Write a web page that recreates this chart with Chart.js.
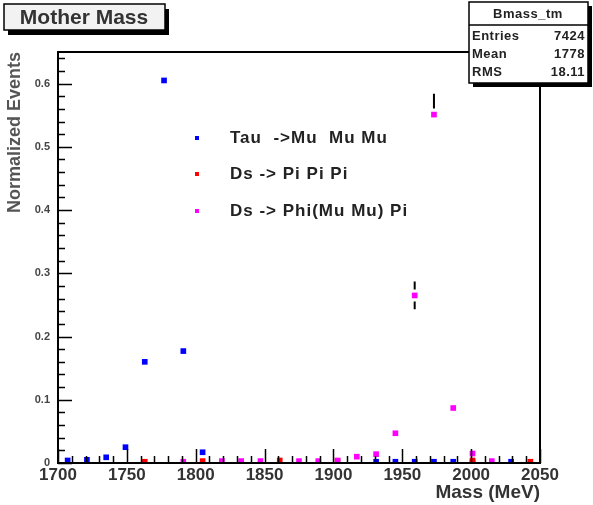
<!DOCTYPE html>
<html>
<head>
<meta charset="utf-8">
<script src="https://cdn.jsdelivr.net/npm/chart.js@4"></script>
<style>
  html, body { margin: 0; padding: 0; background: #fff; }
  #wrap { width: 593px; height: 505px; }
</style>
</head>
<body>
<div id="wrap"><canvas id="massChart" width="593" height="505"></canvas></div>
<script>
// bin centres (MeV), 14 MeV bins from 1700 to 2050
const massBins = [1707, 1721, 1735, 1749, 1763, 1777, 1791, 1805, 1819, 1833, 1847, 1861, 1875,
  1889, 1903, 1917, 1931, 1945, 1959, 1973, 1987, 2001, 2015, 2029, 2043];
const tauMuMuMu = [0.004, 0.005, 0.009, 0.025, 0.160, 0.605, 0.177, 0.017, null, null, null, null, null,
  null, null, null, 0.002, 0.002, 0.002, 0.002, 0.002, 0.001, null, 0.002, null];
const dsPiPiPi = [null, null, null, null, 0.002, null, null, 0.003, null, null, null, 0.004, null,
  null, 0.003, null, null, null, null, null, null, 0.004, null, null, 0.002];
const dsPhiPi = [null, null, null, null, null, null, 0.002, null, 0.003, 0.003, 0.003, null, 0.003,
  0.003, 0.004, 0.010, 0.014, 0.047, 0.265, 0.551, 0.087, 0.015, 0.003, null, null];
const dsPhiPiErrUp = [null, null, null, null, null, null, null, null, null, null, null, null, null,
  null, null, null, null, null, 0.022, 0.033, null, null, null, null, null];
const dsPhiPiErrDown = [null, null, null, null, null, null, null, null, null, null, null, null, null,
  null, null, null, null, null, 0.022, null, null, null, null, null, null];

const xTicks = [1700, 1750, 1800, 1850, 1900, 1950, 2000, 2050];
const yTicks = [0, 0.1, 0.2, 0.3, 0.4, 0.5, 0.6];

const legendLabels = ["Tau  ->Mu  Mu Mu", "Ds -> Pi Pi Pi", "Ds -> Phi(Mu Mu) Pi"];
const statsLabels = ["Entries", "Mean", "RMS"];
const statsValues = ["7424", "1778", "18.11"];

const FONT = "'Liberation Sans', Arial, sans-serif";

function toPoints(vals) {
  return massBins.map((x, i) => ({ x: x, y: vals[i] }));
}

// inward ticks + frame, ROOT style
const framePlugin = {
  id: "frame",
  afterDraw(chart) {
    const { ctx, chartArea: a, scales } = chart;
    ctx.save();
    ctx.strokeStyle = "#000";
    ctx.lineWidth = 2;
    ctx.strokeRect(a.left, a.top, a.right - a.left, a.bottom - a.top);
    ctx.lineWidth = 1.5;
    ctx.beginPath();
    for (let m = 1700; m <= 2050; m += 10) {
      const px = Math.round(scales.x.getPixelForValue(m)) + 0.5;
      const len = m % 50 === 0 ? 14 : 7;
      ctx.moveTo(px, a.bottom);
      ctx.lineTo(px, a.bottom - len);
    }
    for (let k = 0; k <= 32; k++) {
      const v = k * 0.02;
      const py = Math.round(scales.y.getPixelForValue(v)) + 0.5;
      const len = k % 5 === 0 ? 14 : 7;
      ctx.moveTo(a.left, py);
      ctx.lineTo(a.left + len, py);
    }
    ctx.stroke();
    ctx.restore();
  }
};

// vertical error bars for the Phi(Mu Mu) Pi points
const errorBarPlugin = {
  id: "errorBars",
  afterDatasetsDraw(chart) {
    const { ctx, scales } = chart;
    ctx.save();
    ctx.strokeStyle = "#000";
    ctx.lineWidth = 2;
    ctx.beginPath();
    massBins.forEach((m, i) => {
      const v = dsPhiPi[i];
      if (v == null) return;
      const px = scales.x.getPixelForValue(m);
      const py = scales.y.getPixelForValue(v);
      if (dsPhiPiErrUp[i] != null) {
        ctx.moveTo(px, scales.y.getPixelForValue(v + dsPhiPiErrUp[i]));
        ctx.lineTo(px, py - 6);
      }
      if (dsPhiPiErrDown[i] != null) {
        ctx.moveTo(px, py + 6);
        ctx.lineTo(px, scales.y.getPixelForValue(v - dsPhiPiErrDown[i]));
      }
    });
    ctx.stroke();
    ctx.restore();
  }
};

// title box, stats box and in-pad legend
const boxesPlugin = {
  id: "boxes",
  afterDraw(chart) {
    const ctx = chart.ctx;
    const colors = chart.data.datasets.map(d => d.backgroundColor);
    ctx.save();

    // title box
    ctx.fillStyle = "#000";
    ctx.fillRect(8, 9, 161, 26);
    ctx.fillStyle = "#f2f2f2";
    ctx.fillRect(4, 4, 161, 26);
    ctx.strokeStyle = "#000";
    ctx.lineWidth = 1.5;
    ctx.strokeRect(4, 4, 161, 26);
    ctx.fillStyle = "#333";
    ctx.font = "bold 21px " + FONT;
    ctx.textAlign = "center";
    ctx.textBaseline = "middle";
    ctx.fillText("Mother Mass", 84, 18);

    // stats box
    ctx.fillStyle = "#000";
    ctx.fillRect(473, 6, 119, 81);
    ctx.fillStyle = "#fff";
    ctx.fillRect(469, 2, 119, 81);
    ctx.strokeRect(469, 2, 119, 81);
    ctx.beginPath();
    ctx.moveTo(469, 25);
    ctx.lineTo(588, 25);
    ctx.stroke();
    ctx.fillStyle = "#222";
    ctx.font = "bold 13px " + FONT;
    ctx.letterSpacing = "0.5px";
    ctx.fillText("Bmass_tm", 528, 14);
    statsLabels.forEach((lab, i) => {
      const y = 36 + i * 18;
      ctx.textAlign = "left";
      ctx.fillText(lab, 472, y);
      ctx.textAlign = "right";
      ctx.fillText(statsValues[i], 585, y);
    });

    // legend
    ctx.font = "bold 17px " + FONT;
    ctx.letterSpacing = "1px";
    ctx.textAlign = "left";
    legendLabels.forEach((lab, i) => {
      const y = [138, 174, 211][i];
      ctx.fillStyle = colors[i];
      ctx.fillRect(195, y - 2, 4, 4);
      ctx.fillStyle = "#222";
      ctx.fillText(lab, 230, y);
    });
    ctx.restore();
  }
};

new Chart(document.getElementById("massChart").getContext("2d"), {
  type: "scatter",
  data: {
    datasets: [
      {
        label: legendLabels[0],
        data: toPoints(tauMuMuMu),
        backgroundColor: "#0000ff",
        borderColor: "#0000ff",
        order: 2
      },
      {
        label: legendLabels[1],
        data: toPoints(dsPiPiPi),
        backgroundColor: "#ff0000",
        borderColor: "#ff0000",
        order: 1
      },
      {
        label: legendLabels[2],
        data: toPoints(dsPhiPi),
        backgroundColor: "#ff00ff",
        borderColor: "#ff00ff",
        order: 0
      }
    ]
  },
  options: {
    responsive: false,
    animation: false,
    layout: { padding: { top: 52, right: 53, left: 0, bottom: 0 } },
    elements: {
      point: { pointStyle: "rect", radius: 4, borderWidth: 0 }
    },
    plugins: {
      legend: { display: false },
      tooltip: { enabled: false }
    },
    scales: {
      x: {
        type: "linear",
        min: 1700,
        max: 2050,
        grid: { display: false, drawTicks: false },
        border: { display: false },
        afterFit(scale) { scale.height = 42; },
        afterBuildTicks(scale) { scale.ticks = xTicks.map(v => ({ value: v })); },
        ticks: {
          padding: 2,
          maxRotation: 0,
          color: "#333",
          font: { family: FONT, size: 17, weight: "bold" },
          callback: v => String(v)
        },
        title: {
          display: true,
          text: "Mass (MeV)",
          align: "end",
          color: "#333",
          padding: { top: 0, bottom: 1 },
          font: { family: FONT, size: 19, weight: "bold" }
        }
      },
      y: {
        type: "linear",
        min: 0,
        max: 0.65,
        grid: { display: false, drawTicks: false },
        border: { display: false },
        afterFit(scale) { scale.width = 58; },
        afterBuildTicks(scale) { scale.ticks = yTicks.map(v => ({ value: v })); },
        ticks: {
          padding: 8,
          color: "#444",
          font: { family: FONT, size: 11, weight: "bold" },
          callback: v => (v === 0 ? "0" : v.toFixed(1))
        },
        title: {
          display: true,
          text: "Normalized Events",
          align: "end",
          color: "#555",
          padding: { top: 4, bottom: 0 },
          font: { family: FONT, size: 18, weight: "bold" }
        }
      }
    }
  },
  plugins: [errorBarPlugin, framePlugin, boxesPlugin]
});
</script>
</body>
</html>
